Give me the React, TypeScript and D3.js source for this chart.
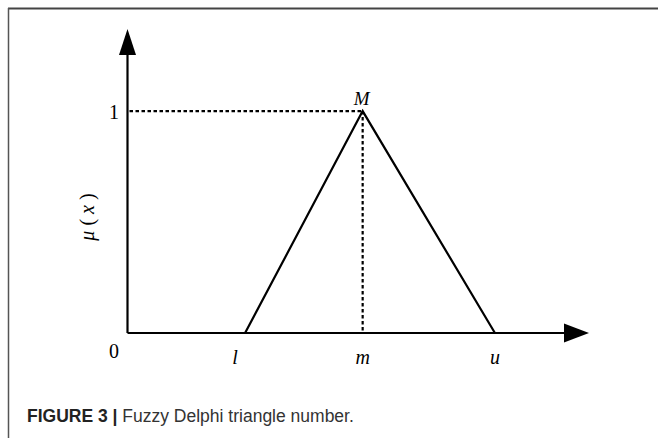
import React, { useEffect, useRef } from 'react';
import * as d3 from 'd3';

// triangular fuzzy number (l, m, u) and its membership values
const pointLabels = ['l', 'm', 'u'];
const pointX = [2, 4, 6.25];
const membership = [0, 1, 0];
const yTicks = [0, 1];
const xAxisMax = 7.85;
const yAxisMax = 1.37;

const W = 659;
const H = 438;

const App = () => {
    const ref = useRef<SVGSVGElement>(null);

    useEffect(() => {
        const svg = d3.select(ref.current);
        svg.selectAll('*').remove();

        const x = d3.scaleLinear().domain([0, xAxisMax]).range([127.5, 589]);
        const y = d3.scaleLinear().domain([0, yAxisMax]).range([333, 29]);
        const serif = '"Liberation Serif", "Times New Roman", serif';

        // frame (top + left only)
        svg.append('line')
            .attr('x1', 8).attr('x2', 658).attr('y1', 8.5).attr('y2', 8.5)
            .attr('stroke', '#444').attr('stroke-width', 2);
        svg.append('line')
            .attr('x1', 8.5).attr('x2', 8.5).attr('y1', 8).attr('y2', H)
            .attr('stroke', '#555').attr('stroke-width', 1.5);

        // axes with arrows
        const ax = svg.append('g').attr('stroke', '#000').attr('stroke-width', 2.2);
        ax.append('line')
            .attr('x1', x(0)).attr('x2', x(xAxisMax) - 20)
            .attr('y1', y(0)).attr('y2', y(0));
        ax.append('line')
            .attr('x1', x(0)).attr('x2', x(0))
            .attr('y1', y(0)).attr('y2', y(yAxisMax) + 20);
        svg.append('path')
            .attr('d', `M${x(xAxisMax)},${y(0)} L${x(xAxisMax) - 25},${y(0) - 9.5} L${x(xAxisMax) - 25},${y(0) + 9.5} Z`)
            .attr('fill', '#000');
        svg.append('path')
            .attr('d', `M${x(0)},${y(yAxisMax)} L${x(0) - 8.5},${y(yAxisMax) + 26} L${x(0) + 8.5},${y(yAxisMax) + 26} Z`)
            .attr('fill', '#000');

        // dashed guides to the peak
        const peak = membership.indexOf(1);
        const dash = svg.append('g')
            .attr('stroke', '#000').attr('stroke-width', 2.2)
            .attr('stroke-dasharray', '3.5,2.5');
        dash.append('line')
            .attr('x1', x(0) + 2).attr('x2', x(pointX[peak]))
            .attr('y1', y(1)).attr('y2', y(1));
        dash.append('line')
            .attr('x1', x(pointX[peak])).attr('x2', x(pointX[peak]))
            .attr('y1', y(1)).attr('y2', y(0));

        // triangle
        const line = d3.line<number>()
            .x((d, i) => x(pointX[i]))
            .y((d) => y(d));
        svg.append('path')
            .attr('d', line(membership))
            .attr('fill', 'none')
            .attr('stroke', '#000')
            .attr('stroke-width', 2.2)
            .attr('stroke-linejoin', 'miter');

        // x labels
        svg.selectAll('text.xl')
            .data(pointLabels)
            .enter()
            .append('text')
            .attr('class', 'xl')
            .attr('x', (d, i) => x(pointX[i]) + (i === 0 ? -10 : 0))
            .attr('y', 364)
            .attr('text-anchor', 'middle')
            .attr('font-family', serif)
            .attr('font-style', 'italic')
            .attr('font-size', 20)
            .text((d) => d);

        // y ticks labels
        svg.selectAll('text.yl')
            .data(yTicks)
            .enter()
            .append('text')
            .attr('class', 'yl')
            .attr('x', 119)
            .attr('y', (d) => d === 0 ? 358 : y(d) + 8)
            .attr('text-anchor', 'end')
            .attr('font-family', serif)
            .attr('font-size', 20)
            .text((d) => d);

        // peak label
        svg.append('text')
            .attr('x', x(pointX[peak]) - 1)
            .attr('y', 105)
            .attr('text-anchor', 'middle')
            .attr('font-family', serif)
            .attr('font-style', 'italic')
            .attr('font-size', 19)
            .text('M');

        // y axis title
        const yt = svg.append('text')
            .attr('transform', `translate(94,217) rotate(-90)`)
            .attr('text-anchor', 'middle')
            .attr('font-family', serif)
            .attr('font-size', 20);
        yt.append('tspan').attr('font-style', 'italic').text('μ');
        yt.append('tspan').text(' ( ');
        yt.append('tspan').attr('font-style', 'italic').text('x');
        yt.append('tspan').text(' )');

        // caption
        const cap = svg.append('text')
            .attr('x', 27)
            .attr('y', 422)
            .attr('font-family', '"Liberation Sans", Arial, sans-serif')
            .attr('font-size', 17.5)
            .attr('fill', '#222');
        cap.append('tspan').attr('font-weight', 'bold').text('FIGURE 3 | ');
        cap.append('tspan').attr('fill', '#333').text('Fuzzy Delphi triangle number.');
    }, []);

    return (
        <svg ref={ref} width={W} height={H}
            style={{ position: 'absolute', left: 0, top: 0, background: '#fff' }} />
    );
};

export default App;
